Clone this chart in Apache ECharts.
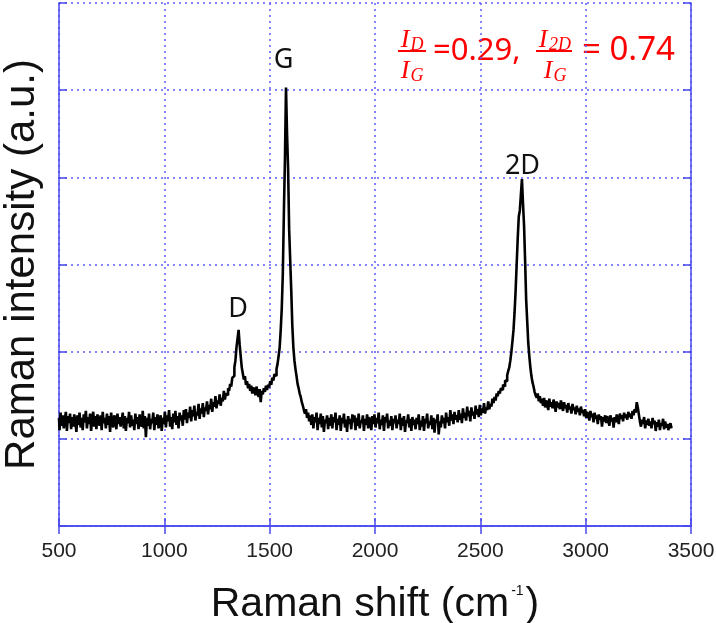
<!DOCTYPE html>
<html>
<head>
<meta charset="UTF-8">
<title>Raman spectrum</title>
<script src="https://cdn.jsdelivr.net/npm/echarts@6/dist/echarts.min.js"></script>
<style>
  html, body, #main { margin: 0; padding: 0; width: 716px; height: 623px; background: #fff; }
</style>
</head>
<body>
<div id="main"></div>
<script>
// Raman shift axis: first point and spacing (cm-1)
const shiftStart = 500;
const shiftStep = 5;

// intensity, one row per 100 cm-1
const intensity = [
  1.24,1.10,1.30,1.15,1.27,1.12,1.22,1.31,1.09,1.26,1.18,1.29,1.11,1.25,1.14,1.28,1.20,1.08,1.27,1.16, // 500
  1.30,1.13,1.24,1.10,1.28,1.19,1.32,1.12,1.25,1.17,1.29,1.09,1.23,1.31,1.14,1.26,1.11,1.28,1.20,1.15, // 600
  1.27,1.10,1.31,1.18,1.24,1.12,1.29,1.16,1.26,1.08,1.30,1.19,1.13,1.27,1.22,1.11,1.29,1.17,1.25,1.14, // 700
  1.21,1.30,1.12,1.26,1.09,1.24,1.18,1.31,1.13,1.27,1.15,1.22,1.10,1.29,1.17,1.25,1.11,1.28,1.19,1.14, // 800
  1.32,1.12,1.26,1.02,1.24,1.15,1.29,1.11,1.23,1.18,1.30,1.10,1.25,1.16,1.28,1.12,1.21,1.27,1.09,1.24, // 900
  1.17,1.31,1.13,1.27,1.20,1.33,1.14,1.25,1.11,1.29,1.19,1.32,1.16,1.26,1.12,1.30,1.21,1.27,1.15,1.33, // 1000
  1.22,1.34,1.18,1.30,1.24,1.37,1.20,1.33,1.26,1.38,1.21,1.31,1.27,1.40,1.23,1.35,1.29,1.41,1.25,1.36, // 1100
  1.32,1.43,1.28,1.39,1.34,1.46,1.31,1.42,1.37,1.49,1.35,1.44,1.40,1.51,1.38,1.47,1.43,1.55,1.45,1.52, // 1200
  1.50,1.58,1.55,1.63,1.60,1.70,1.72,1.82,1.90,2.05,2.15,2.25,2.08,1.95,1.82,1.75,1.68,1.72,1.62,1.66, // 1300
  1.58,1.63,1.55,1.61,1.52,1.59,1.56,1.50,1.60,1.53,1.48,1.57,1.42,1.55,1.51,1.58,1.54,1.61,1.56,1.62, // 1400
  1.59,1.66,1.62,1.70,1.67,1.74,1.72,1.80,1.86,1.95,2.05,2.25,2.50,2.90,3.60,4.20,5.03,4.50,4.10,3.40, // 1500
  3.05,2.70,2.30,2.05,1.90,1.80,1.72,1.63,1.58,1.52,1.48,1.42,1.38,1.33,1.29,1.34,1.24,1.30,1.20,1.27, // 1600
  1.16,1.28,1.12,1.25,1.19,1.30,1.10,1.24,1.17,1.29,1.13,1.26,1.08,1.22,1.18,1.27,1.11,1.24,1.15,1.28, // 1700
  1.12,1.25,1.19,1.30,1.10,1.23,1.16,1.27,1.09,1.24,1.18,1.29,1.13,1.22,1.08,1.26,1.17,1.23,1.11,1.28, // 1800
  1.19,1.27,1.10,1.24,1.15,1.29,1.12,1.21,1.18,1.27,1.09,1.23,1.16,1.28,1.12,1.25,1.19,1.10,1.26,1.17, // 1900
  1.28,1.13,1.24,1.18,1.30,1.11,1.22,1.16,1.27,1.09,1.25,1.19,1.29,1.12,1.21,1.15,1.26,1.10,1.23,1.18, // 2000
  1.27,1.12,1.22,1.17,1.29,1.10,1.24,1.15,1.26,1.08,1.21,1.18,1.28,1.13,1.23,1.09,1.25,1.16,1.22,1.11, // 2100
  1.24,1.17,1.28,1.10,1.21,1.14,1.26,1.09,1.23,1.18,1.29,1.12,1.20,1.16,1.27,1.11,1.24,1.07,1.22,1.19, // 2200
  1.28,1.05,1.20,1.13,1.27,1.18,1.24,1.12,1.30,1.19,1.25,1.15,1.33,1.21,1.28,1.17,1.31,1.22,1.27,1.19, // 2300
  1.33,1.22,1.29,1.18,1.35,1.24,1.30,1.21,1.37,1.26,1.32,1.20,1.36,1.27,1.31,1.23,1.38,1.28,1.34,1.25, // 2400
  1.39,1.27,1.35,1.30,1.41,1.29,1.36,1.33,1.43,1.34,1.40,1.37,1.46,1.41,1.48,1.44,1.52,1.49,1.55,1.52, // 2500
  1.58,1.56,1.62,1.60,1.67,1.66,1.73,1.78,1.82,1.90,2.00,2.12,2.25,2.45,2.70,3.00,3.30,3.55,3.62,3.80, // 2600
  3.98,3.70,3.45,3.05,2.60,2.35,2.10,1.95,1.82,1.72,1.65,1.60,1.54,1.50,1.47,1.52,1.43,1.49,1.41,1.46, // 2700
  1.38,1.47,1.36,1.44,1.40,1.33,1.46,1.37,1.42,1.35,1.45,1.39,1.31,1.43,1.36,1.41,1.34,1.44,1.38,1.32, // 2800
  1.42,1.35,1.39,1.30,1.41,1.34,1.37,1.29,1.40,1.33,1.36,1.28,1.38,1.31,1.35,1.27,1.37,1.30,1.33,1.26, // 2900
  1.34,1.24,1.31,1.27,1.21,1.32,1.25,1.29,1.19,1.30,1.23,1.27,1.17,1.28,1.22,1.26,1.14,1.25,1.20,1.27, // 3000
  1.18,1.26,1.21,1.15,1.27,1.20,1.24,1.13,1.25,1.19,1.28,1.22,1.17,1.29,1.23,1.27,1.20,1.30,1.24,1.28, // 3100
  1.22,1.31,1.25,1.29,1.23,1.32,1.27,1.34,1.30,1.42,1.36,1.28,1.20,1.14,1.22,1.17,1.25,1.12,1.21,1.16, // 3200
  1.23,1.15,1.20,1.12,1.24,1.17,1.21,1.09,1.19,1.14,1.22,1.10,1.18,1.15,1.23,1.11,1.20,1.13,1.17,1.10, // 3300
  1.15,1.18,1.12                                                                                       // 3400
];

// peak labels
const peakNames = ['D', 'G', '2D'];
const peakShifts = [1355, 1580, 2700];
const peakOffsets = [[-1, -21], [-3, -27], [0, -13]];

const blue = '#4848ee';
const gridBlue = '#5c5cff';

const chart = echarts.init(document.getElementById('main'), null, { renderer: 'canvas' });

const points = intensity.map((v, i) => [shiftStart + i * shiftStep, v]);

const peakData = peakNames.map((name, i) => {
  const idx = (peakShifts[i] - shiftStart) / shiftStep;
  return {
    name: name,
    coord: [peakShifts[i], intensity[idx]],
    label: { offset: peakOffsets[i] }
  };
});

const hiddenAxis = {
  axisLabel: { show: false },
  splitLine: { show: false },
  axisLine: { show: true, lineStyle: { color: blue, width: 1.5 } },
  axisTick: { show: true, inside: true, length: 8, lineStyle: { color: blue, width: 1.5 } }
};

chart.setOption({
  backgroundColor: '#fff',
  animation: false,
  grid: { left: 59, right: 25, top: 3, bottom: 97, outerBoundsMode: 'none', containLabel: false },
  xAxis: [{
    type: 'value', min: 500, max: 3500, interval: 500,
    name: '{t|Raman shift (cm}{s|-1}{t|)}',
    nameLocation: 'middle', nameGap: 58,
    nameTextStyle: {
      rich: {
        t: { fontFamily: 'Liberation Sans', fontSize: 41, color: '#111' },
        s: { fontFamily: 'Liberation Sans', fontSize: 14, color: '#111', verticalAlign: 'top', padding: [0, 2, 22, 2] }
      }
    },
    axisLine: { show: true, lineStyle: { color: blue, width: 1.5 } },
    axisTick: { show: true, inside: true, length: 8, lineStyle: { color: blue, width: 1.5 } },
    axisLabel: { fontFamily: 'Liberation Sans', fontSize: 21, color: '#222', margin: 15, formatter: v => String(v) },
    splitLine: { show: true, lineStyle: { color: gridBlue, type: [2, 4], width: 1.5 } }
  }, Object.assign({ type: 'value', min: 500, max: 3500, interval: 500, position: 'top' }, hiddenAxis)],
  yAxis: [{
    type: 'value', min: 0, max: 6, interval: 1,
    name: 'Raman intensity (a.u.)',
    nameLocation: 'middle', nameGap: 16,
    nameTextStyle: { fontFamily: 'Liberation Sans', fontSize: 42, color: '#111' },
    axisLine: { show: true, lineStyle: { color: blue, width: 1.5 } },
    axisTick: { show: true, inside: true, length: 8, lineStyle: { color: blue, width: 1.5 } },
    axisLabel: { show: false },
    splitLine: { show: true, lineStyle: { color: gridBlue, type: [2, 4], width: 1.5 } }
  }, Object.assign({ type: 'value', min: 0, max: 6, interval: 1, position: 'right' }, hiddenAxis)],
  series: [{
    type: 'line',
    data: points,
    step: 'middle',
    showSymbol: false,
    lineStyle: { color: '#000', width: 2.6 },
    markPoint: {
      symbol: 'circle', symbolSize: 0,
      label: {
        show: true, formatter: '{b}', position: 'inside',
        fontFamily: 'Noto Sans', fontSize: 27, color: '#111'
      },
      data: peakData
    }
  }],
  graphic: [{
    type: 'group',
    children: [
      { type: 'text', x: 405, y: 40, style: { text: 'I', font: 'italic 26px "Liberation Serif"', fill: '#f00', textAlign: 'center', textVerticalAlign: 'middle' } },
      { type: 'text', x: 417, y: 45, style: { text: 'D', font: 'italic 18px "Liberation Serif"', fill: '#f00', textAlign: 'center', textVerticalAlign: 'middle' } },
      { type: 'rect', shape: { x: 398, y: 50, width: 28, height: 2 }, style: { fill: '#f00' } },
      { type: 'text', x: 405, y: 71, style: { text: 'I', font: 'italic 26px "Liberation Serif"', fill: '#f00', textAlign: 'center', textVerticalAlign: 'middle' } },
      { type: 'text', x: 417, y: 76, style: { text: 'G', font: 'italic 18px "Liberation Serif"', fill: '#f00', textAlign: 'center', textVerticalAlign: 'middle' } },
      { type: 'text', x: 433, y: 51, style: { text: '=0.29,', font: '31px "Noto Sans"', fill: '#f00', textAlign: 'left', textVerticalAlign: 'middle' } },
      { type: 'text', x: 543, y: 40, style: { text: 'I', font: 'italic 26px "Liberation Serif"', fill: '#f00', textAlign: 'center', textVerticalAlign: 'middle' } },
      { type: 'text', x: 560, y: 45, style: { text: '2D', font: 'italic 18px "Liberation Serif"', fill: '#f00', textAlign: 'center', textVerticalAlign: 'middle' } },
      { type: 'rect', shape: { x: 536, y: 50, width: 36, height: 2 }, style: { fill: '#f00' } },
      { type: 'text', x: 548, y: 71, style: { text: 'I', font: 'italic 26px "Liberation Serif"', fill: '#f00', textAlign: 'center', textVerticalAlign: 'middle' } },
      { type: 'text', x: 560, y: 76, style: { text: 'G', font: 'italic 18px "Liberation Serif"', fill: '#f00', textAlign: 'center', textVerticalAlign: 'middle' } },
      { type: 'text', x: 582, y: 51, style: { text: '= 0.74', font: '33px "Noto Sans"', fill: '#f00', textAlign: 'left', textVerticalAlign: 'middle' } }
    ]
  }]
});
</script>
</body>
</html>
